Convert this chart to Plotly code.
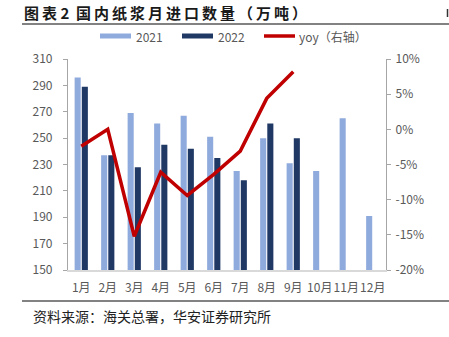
import plotly.graph_objects as go

months = ["1月", "2月", "3月", "4月", "5月", "6月", "7月", "8月", "9月", "10月", "11月", "12月"]
imp_2021 = [296, 237, 269, 261, 267, 251, 225, 250, 231, 225, 265, 191]
imp_2022 = [289, 237, 228, 245, 242, 235, 218, 261, 250]
yoy = [-2.4, 0.0, -15.2, -6.1, -9.4, -6.4, -3.1, 4.4, 8.2]
yoy_ticks = [-20, -15, -10, -5, 0, 5, 10]

C21 = "#8FAADC"
C22 = "#203864"
CRED = "#C00000"
TXT = "#595959"
FONT = "Noto Sans CJK SC"

W, H = 449, 337
L, R, T, B = 68, 63, 59, 67
PW, PH = W - L - R, H - T - B

def px(x):
    return (x - L) / PW

def py(y):
    return (H - B - y) / PH

fig = go.Figure()
fig.add_trace(go.Bar(x=months, y=imp_2021, name="2021", marker_color=C21,
                     marker_line_width=0, yaxis="y"))
fig.add_trace(go.Bar(x=months[:len(imp_2022)], y=imp_2022, name="2022", marker_color=C22,
                     marker_line_width=0, yaxis="y"))
fig.add_trace(go.Scatter(x=months[:len(yoy)], y=yoy, name="yoy（右轴）", mode="lines",
                         line=dict(color=CRED, width=3.5), yaxis="y2"))

shapes = [
    dict(type="line", xref="paper", yref="paper", x0=px(22), x1=px(449), y0=py(24), y1=py(24),
         line=dict(color="#595959", width=1.5)),
    dict(type="line", xref="paper", yref="paper", x0=px(22), x1=px(449), y0=py(301), y1=py(301),
         line=dict(color="#595959", width=1.5)),
    dict(type="line", xref="paper", yref="paper", x0=px(447.5), x1=px(447.5), y0=py(9), y1=py(17),
         line=dict(color="#333333", width=1.5)),
    # legend swatches
    dict(type="rect", xref="paper", yref="paper", x0=px(100), x1=px(131), y0=py(38.5), y1=py(33.5),
         fillcolor=C21, line_width=0),
    dict(type="rect", xref="paper", yref="paper", x0=px(182), x1=px(213), y0=py(38.5), y1=py(33.5),
         fillcolor=C22, line_width=0),
    dict(type="line", xref="paper", yref="paper", x0=px(264), x1=px(295), y0=py(36), y1=py(36),
         line=dict(color=CRED, width=3.5)),
]

ts = "\u2009"
title_txt = ts.join("图表") + " 2  " + ts.join("国内纸浆月进口数量（万吨）")

annotations = [
    dict(text="<b>" + title_txt + "</b>", xref="paper", yref="paper",
         x=px(22), y=py(13), xanchor="left", yanchor="middle", showarrow=False,
         font=dict(family=FONT, size=15, color="#1a1a1a")),
    dict(text="资料来源：海关总署，华安证券研究所", xref="paper", yref="paper",
         x=px(31), y=py(316), xanchor="left", yanchor="middle", showarrow=False,
         font=dict(family=FONT, size=14, color="#222222")),
    dict(text="2021", xref="paper", yref="paper", x=px(134), y=py(36), xanchor="left",
         yanchor="middle", showarrow=False, font=dict(family=FONT, size=12, color=TXT)),
    dict(text="2022", xref="paper", yref="paper", x=px(216), y=py(36), xanchor="left",
         yanchor="middle", showarrow=False, font=dict(family=FONT, size=12, color=TXT)),
    dict(text="yoy（右轴）", xref="paper", yref="paper", x=px(297), y=py(36), xanchor="left",
         yanchor="middle", showarrow=False, font=dict(family=FONT, size=12, color=TXT)),
]

fig.update_layout(
    width=W, height=H,
    margin=dict(l=L, r=R, t=T, b=B, pad=0),
    paper_bgcolor="white", plot_bgcolor="white",
    showlegend=False,
    barmode="group", bargap=0.46, bargroupgap=0.15,
    font=dict(family=FONT, size=12, color=TXT),
    xaxis=dict(type="category", categoryorder="array", categoryarray=months,
               showline=True, linecolor="#D9D9D9", linewidth=1.5, ticks="",
               showgrid=False, tickangle=0, tickfont=dict(size=12, color=TXT),
               ticklabelstandoff=6),
    yaxis=dict(range=[150, 310], tickmode="linear", tick0=150, dtick=20,
               showline=True, linecolor="#A6A6A6", linewidth=1.2, ticks="outside",
               ticklen=4, tickcolor="#A6A6A6", showgrid=False, zeroline=False,
               tickfont=dict(size=12, color=TXT), ticklabelstandoff=8),
    yaxis2=dict(range=[-20, 10], overlaying="y", side="right", tickmode="array",
                tickvals=yoy_ticks, ticktext=[f"{v}%" for v in yoy_ticks],
                showline=True, linecolor="#A6A6A6", linewidth=1.2, ticks="outside",
                ticklen=4, tickcolor="#A6A6A6", showgrid=False, zeroline=False,
                tickfont=dict(size=12, color=TXT), ticklabelstandoff=2),
    shapes=shapes, annotations=annotations,
)

fig.write_html("out.html")
